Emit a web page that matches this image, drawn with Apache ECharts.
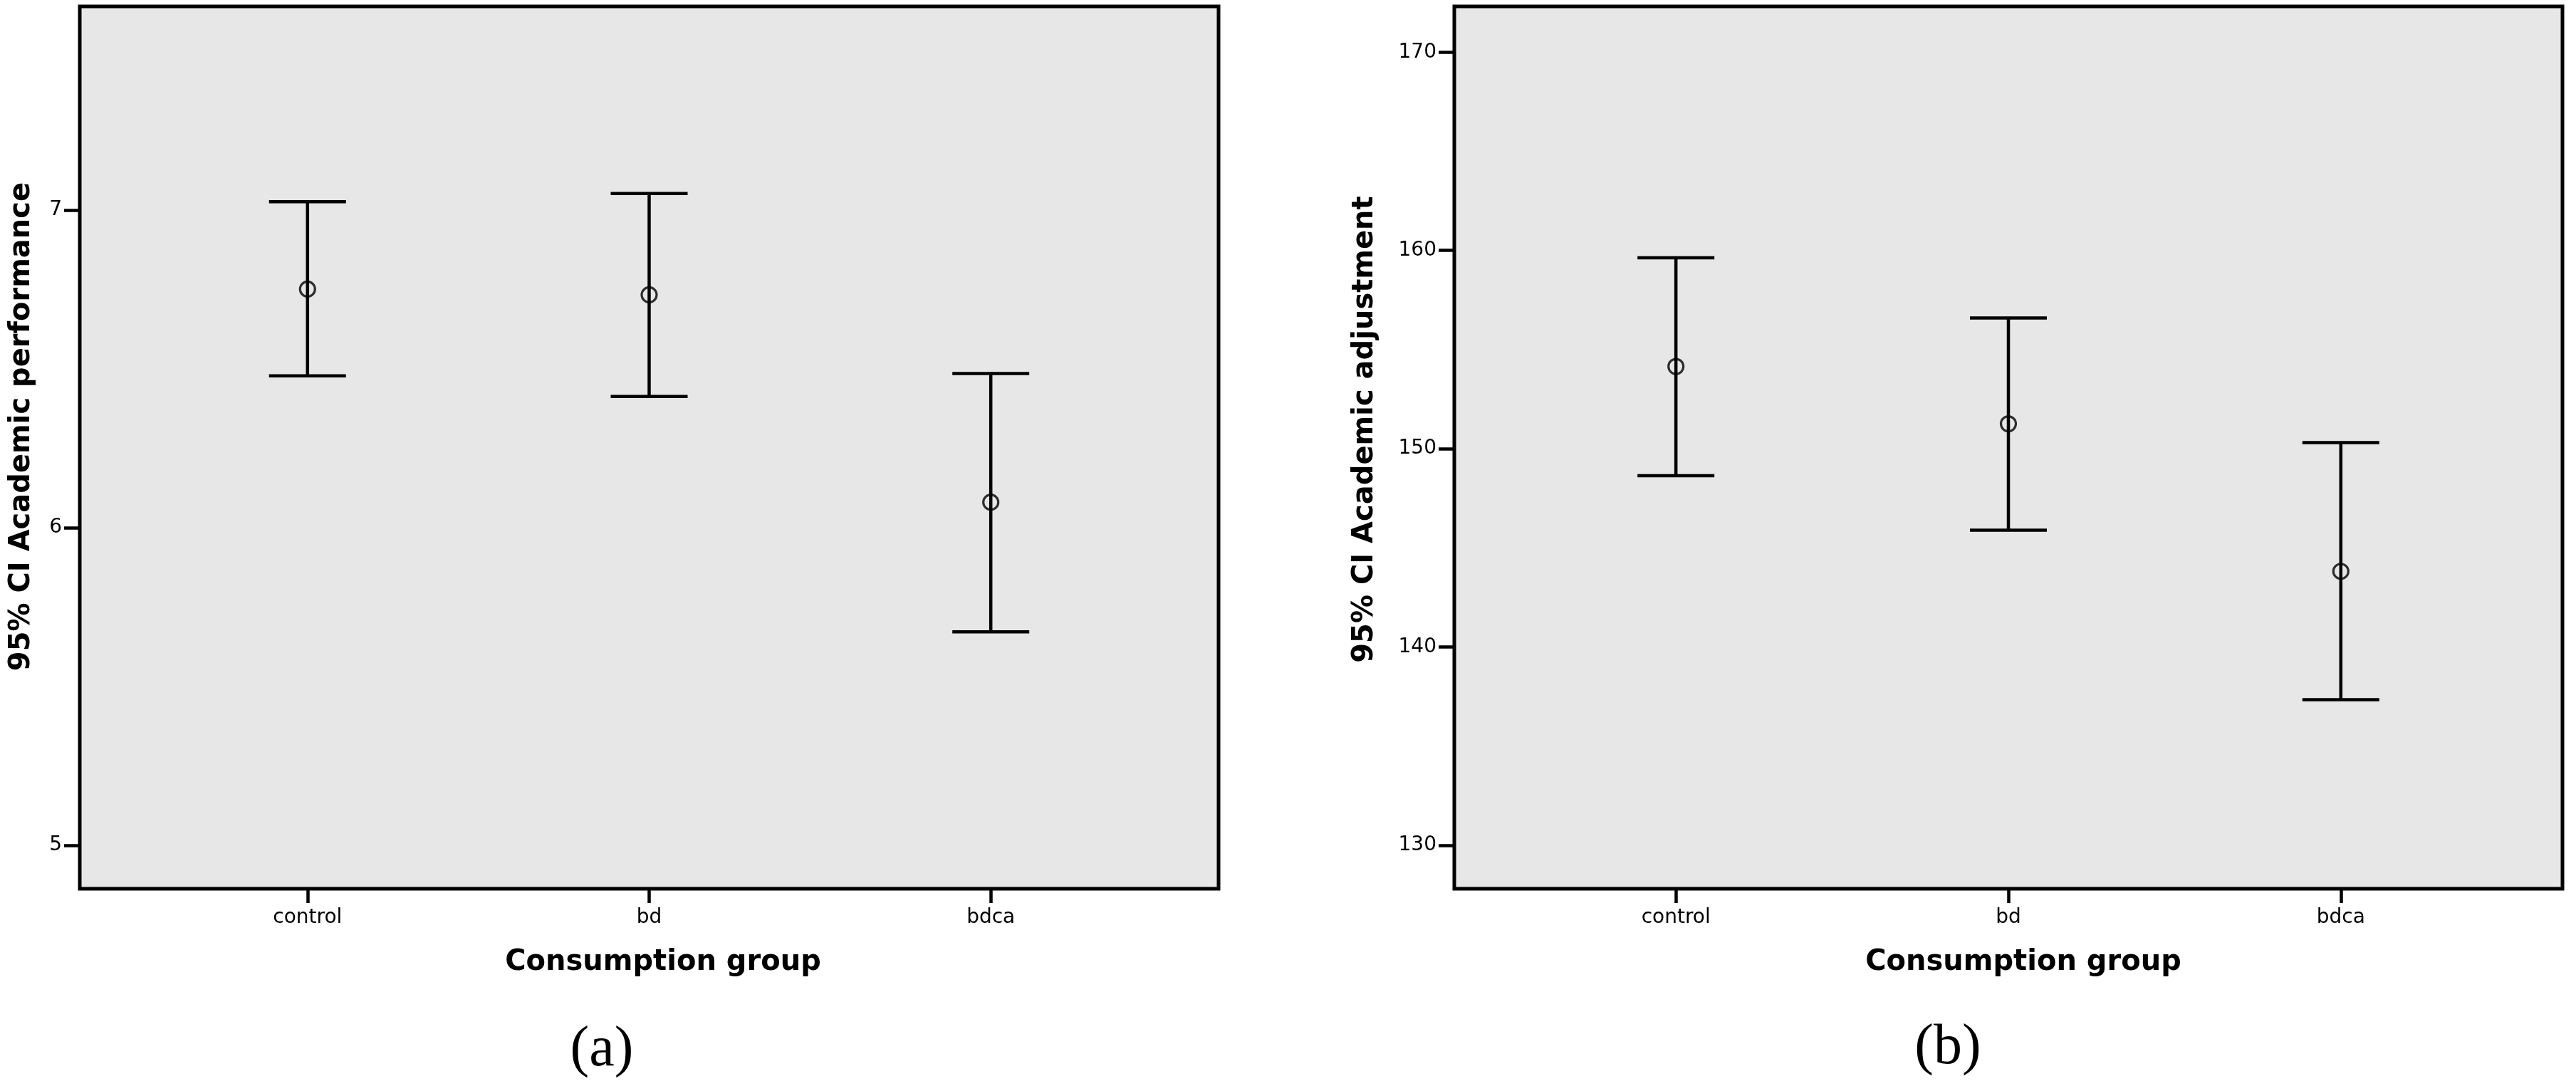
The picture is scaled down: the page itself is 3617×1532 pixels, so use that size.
<!DOCTYPE html>
<html>
<head>
<meta charset="utf-8">
<script src="https://cdn.jsdelivr.net/npm/echarts@6/dist/echarts.min.js"></script>
<style>
  html, body { margin: 0; padding: 0; background: #ffffff; }
  #chart { width: 3617px; height: 1532px; }
</style>
</head>
<body>
<div id="chart"></div>
<script>
// ---- data ----
const categories = ['control', 'bd', 'bdca'];

// (a) 95% CI Academic performance
const perfMean  = [6.751, 6.733, 6.080];
const perfLower = [6.478, 6.413, 5.672];
const perfUpper = [7.026, 7.052, 6.485];
const perfTicks = [5, 6, 7];

// (b) 95% CI Academic adjustment
const adjMean  = [154.15, 151.26, 143.82];
const adjLower = [148.64, 145.89, 137.35];
const adjUpper = [159.63, 156.60, 150.31];
const adjTicks = [130, 140, 150, 160, 170];

const catIdx = [0, 1, 2];

// ---- styling ----
const tickFont = 'DejaVu Sans, sans-serif';
const titleFont = 'DejaVu Sans, sans-serif';

const chart = echarts.init(document.getElementById('chart'), null, { renderer: 'canvas', devicePixelRatio: 1 });

function xAxisFor(gridIndex) {
  return {
    type: 'value', gridIndex: gridIndex,
    min: -2 / 3, max: 8 / 3,
    axisLine: { show: false, onZero: false },
    splitLine: { show: false },
    axisTick: { show: true, inside: false, length: 20, customValues: catIdx, lineStyle: { color: '#000', width: 4.5 } },
    axisLabel: {
      show: true, customValues: catIdx, margin: 27,
      formatter: function (v) { return categories[Math.round(v)]; },
      color: '#000', fontSize: 28, fontFamily: tickFont
    }
  };
}
function yAxisFor(gridIndex, min, max, ticks) {
  return {
    type: 'value', gridIndex: gridIndex, min: min, max: max,
    axisLine: { show: false, onZero: false },
    splitLine: { show: false },
    axisTick: { show: true, inside: false, length: 22, customValues: ticks, lineStyle: { color: '#000', width: 4.5 } },
    axisLabel: { show: true, customValues: ticks, margin: 25, color: '#000', fontSize: 28, fontFamily: tickFont }
  };
}

function errorBarRender(params, api) {
  const x = api.value(0), lo = api.value(1), hi = api.value(2);
  const pLo = api.coord([x, lo]);
  const pHi = api.coord([x, hi]);
  const half = 54;
  const st = { stroke: '#000', lineWidth: 4.5 };
  return {
    type: 'group',
    children: [
      { type: 'line', shape: { x1: pLo[0], y1: pLo[1], x2: pHi[0], y2: pHi[1] }, style: st },
      { type: 'line', shape: { x1: pHi[0] - half, y1: pHi[1], x2: pHi[0] + half, y2: pHi[1] }, style: st },
      { type: 'line', shape: { x1: pLo[0] - half, y1: pLo[1], x2: pLo[0] + half, y2: pLo[1] }, style: st }
    ]
  };
}

function barData(lower, upper) { return catIdx.map(i => [i, lower[i], upper[i]]); }
function meanData(mean) { return catIdx.map(i => [i, mean[i]]); }

const meanStyle = {
  symbol: 'circle', symbolSize: 21,
  itemStyle: { color: 'rgba(0,0,0,0)', borderColor: '#000', borderWidth: 3.2 }
};

const option = {
  backgroundColor: '#ffffff',
  animation: false,
  grid: [
    { left: 112, top: 9, width: 1599, height: 1239, show: true, backgroundColor: '#e7e7e7', borderColor: '#000', borderWidth: 5 },
    { left: 2042, top: 9, width: 1556, height: 1239, show: true, backgroundColor: '#e7e7e7', borderColor: '#000', borderWidth: 5 }
  ],
  xAxis: [xAxisFor(0), xAxisFor(1)],
  yAxis: [
    yAxisFor(0, 4.863, 7.641, perfTicks),
    yAxisFor(1, 127.81, 172.31, adjTicks)
  ],
  series: [
    { type: 'custom', xAxisIndex: 0, yAxisIndex: 0, renderItem: errorBarRender, data: barData(perfLower, perfUpper), z: 2 },
    Object.assign({ type: 'scatter', xAxisIndex: 0, yAxisIndex: 0, data: meanData(perfMean), z: 3 }, meanStyle),
    { type: 'custom', xAxisIndex: 1, yAxisIndex: 1, renderItem: errorBarRender, data: barData(adjLower, adjUpper), z: 2 },
    Object.assign({ type: 'scatter', xAxisIndex: 1, yAxisIndex: 1, data: meanData(adjMean), z: 3 }, meanStyle)
  ],
  graphic: [
    { type: 'text', x: 31, y: 599, rotation: Math.PI / 2,
      style: { text: '95% CI Academic performance', font: 'bold 40px ' + titleFont, fill: '#000', align: 'center', verticalAlign: 'middle' } },
    { type: 'text', x: 1917, y: 603, rotation: Math.PI / 2,
      style: { text: '95% CI Academic adjustment', font: 'bold 40px ' + titleFont, fill: '#000', align: 'center', verticalAlign: 'middle' } },
    { type: 'text', x: 931, y: 1352,
      style: { text: 'Consumption group', font: 'bold 40px ' + titleFont, fill: '#000', align: 'center', verticalAlign: 'middle' } },
    { type: 'text', x: 2841, y: 1352,
      style: { text: 'Consumption group', font: 'bold 40px ' + titleFont, fill: '#000', align: 'center', verticalAlign: 'middle' } },
    { type: 'text', x: 845, y: 1475,
      style: { text: '(a)', font: '80px "Liberation Serif", "DejaVu Serif", serif', fill: '#000', align: 'center', verticalAlign: 'middle' } },
    { type: 'text', x: 2735, y: 1472,
      style: { text: '(b)', font: '80px "Liberation Serif", "DejaVu Serif", serif', fill: '#000', align: 'center', verticalAlign: 'middle' } }
  ]
};

chart.setOption(option);
</script>
</body>
</html>
